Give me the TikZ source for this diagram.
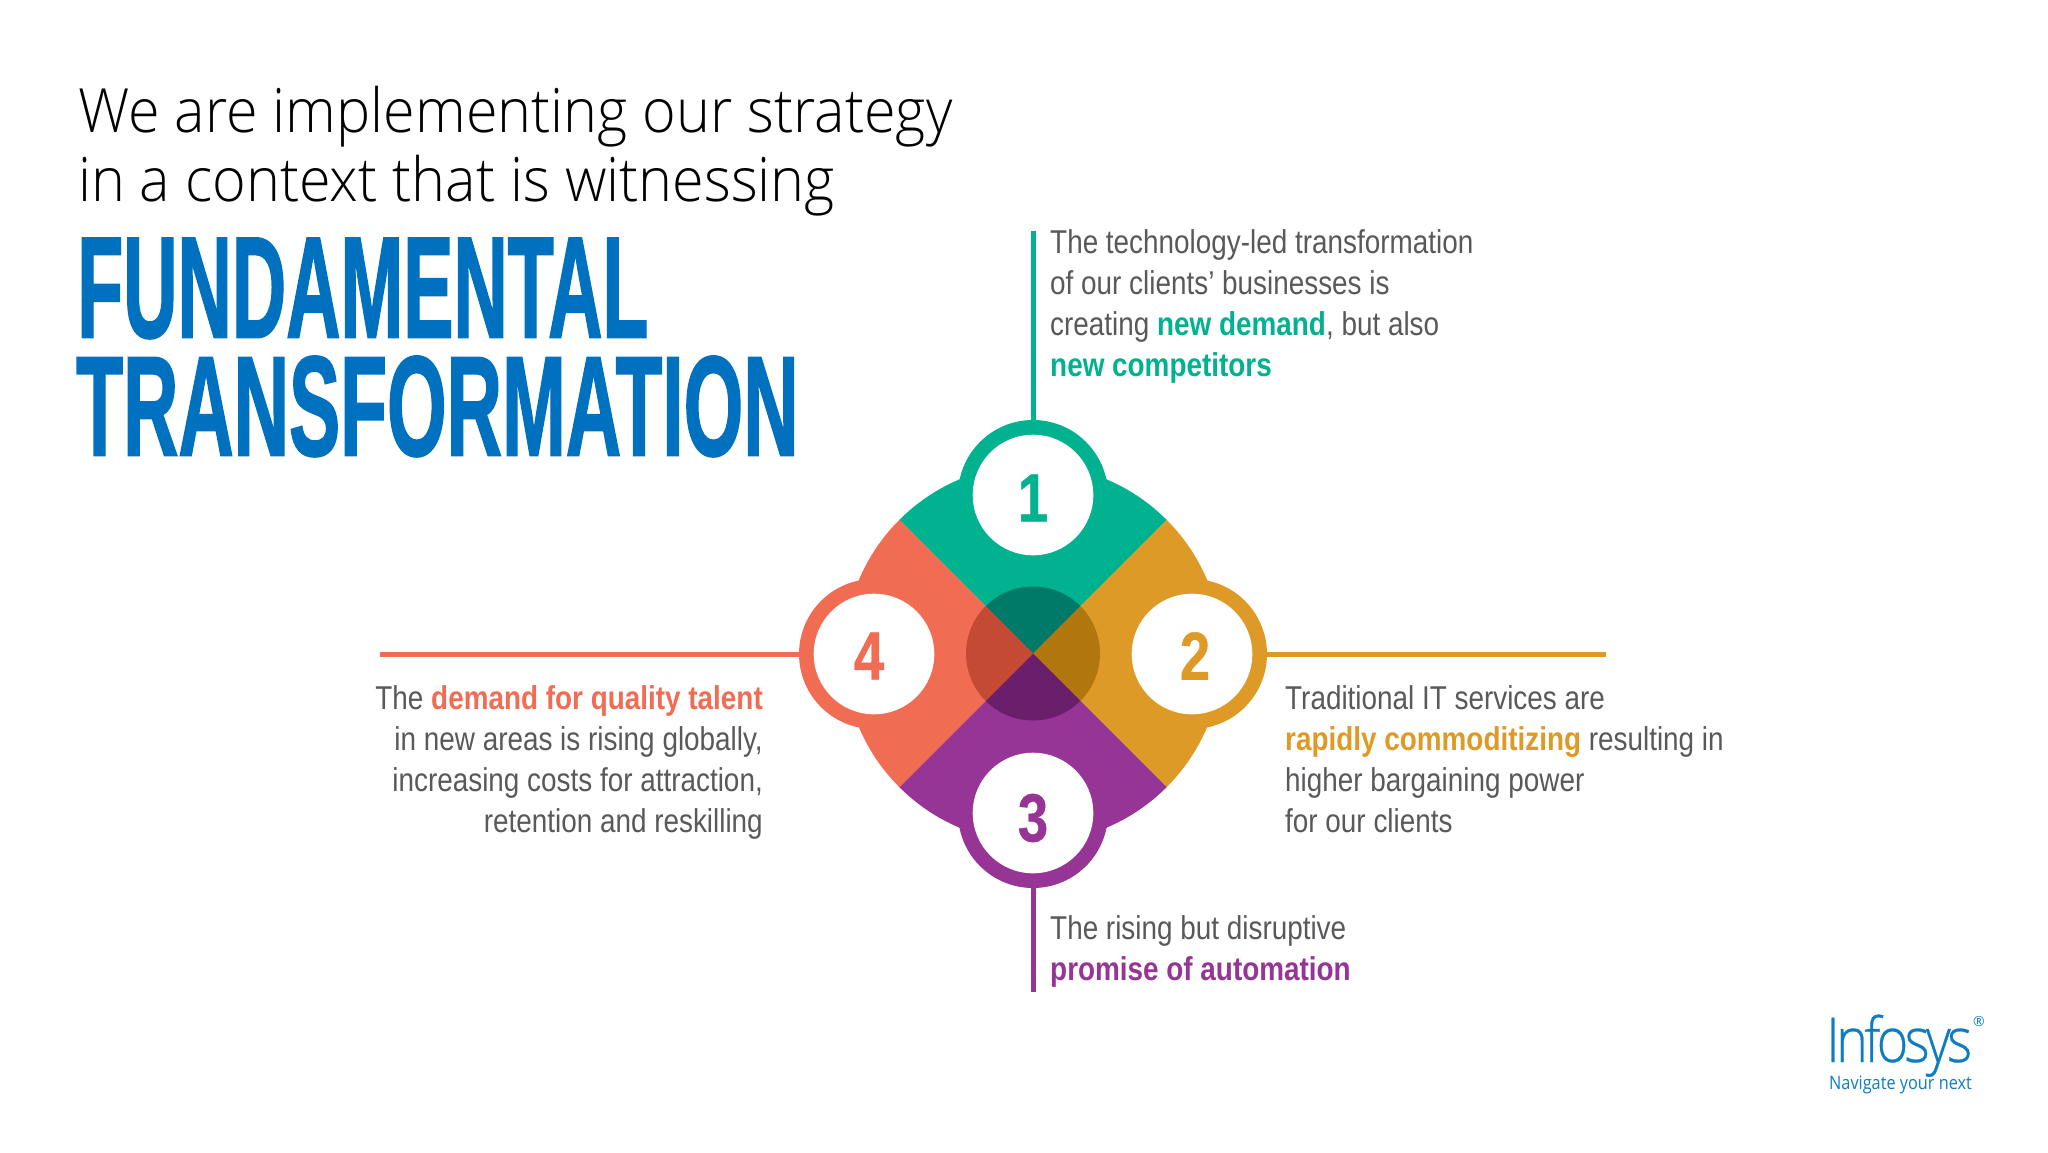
\documentclass[tikz,border=0pt]{standalone}
\usepackage{fontspec}
\setmainfont{Liberation Sans}[FakeStretch=0.845]
\newfontfamily\titlefont{Open Sans Light}[FakeStretch=0.942]
\newfontfamily\headfont{Liberation Sans Bold}[FakeBold=1.6]
\newfontfamily\logofont{Open Sans Light}[LetterSpace=-6,FakeStretch=0.87,FakeBold=0.4]
\newfontfamily\regfont{Open Sans}
\newfontfamily\tagfont{Open Sans}[FakeStretch=0.88]
\newfontfamily\numfont{Liberation Sans Bold}[FakeStretch=0.8,FakeBold=0.6]
\definecolor{cgreen}{HTML}{00B28F}
\definecolor{cgold}{HTML}{DD9A27}
\definecolor{cpurple}{HTML}{963595}
\definecolor{ccoral}{HTML}{F06C53}
\definecolor{dgreen}{HTML}{007A68}
\definecolor{dgold}{HTML}{B2760F}
\definecolor{dpurple}{HTML}{6A1F6D}
\definecolor{dcoral}{HTML}{C44A33}
\definecolor{cblue}{HTML}{0071BF}
\definecolor{lblue}{HTML}{0E7CC1}
\definecolor{cgray}{HTML}{58595B}
\newcommand{\hl}[2]{\textcolor{#1}{\textbf{#2}}}
\tikzset{
  ring/.style={circle,minimum size=150pt,inner sep=0pt},
  hole/.style={circle,fill=white,minimum size=120.6pt,inner sep=0pt},
  numeral/.style={inner sep=0pt,font=\numfont\fontsize{68}{68}\selectfont},
  body/.style={inner sep=0pt,text=cgray,font=\fontsize{33}{41}\selectfont},
  leader/.style={line width=5pt},
  titleline/.style={inner sep=0pt,anchor=base west,text=black,font=\titlefont\fontsize{61}{61}\selectfont},
  headline/.style={inner sep=0pt,anchor=north west,text=cblue}
}
\begin{document}
\begin{tikzpicture}[x=1pt,y=-1pt]
\useasboundingbox (0,0) rectangle (2048,1152);
\fill[white] (0,0) rectangle (2048,1152);
\node[titleline] (t1) at (78,132) {We are implementing our strategy};
\node[titleline] (t2) at (78,201) {in a context that is witnessing};
\node[headline] (h1) at (77,238) {\resizebox{571pt}{99pt}{\headfont FUNDAMENTAL}};
\node[headline] (h2) at (76,356) {\resizebox{722pt}{99pt}{\headfont TRANSFORMATION}};
\begin{scope}[shift={(1033,653.5)}]
\fill[cgreen] (0,0) -- (-135:189) arc[start angle=-135,end angle=-45,radius=189] -- cycle;
\fill[cgold] (0,0) -- (-45:189) arc[start angle=-45,end angle=45,radius=189] -- cycle;
\fill[cpurple] (0,0) -- (45:189) arc[start angle=45,end angle=135,radius=189] -- cycle;
\fill[ccoral] (0,0) -- (135:189) arc[start angle=135,end angle=225,radius=189] -- cycle;
\fill[dgreen] (0,0) -- (-135:67) arc[start angle=-135,end angle=-45,radius=67] -- cycle;
\fill[dgold] (0,0) -- (-45:67) arc[start angle=-45,end angle=45,radius=67] -- cycle;
\fill[dpurple] (0,0) -- (45:67) arc[start angle=45,end angle=135,radius=67] -- cycle;
\fill[dcoral] (0,0) -- (135:67) arc[start angle=135,end angle=225,radius=67] -- cycle;
\end{scope}
\node[ring,fill=cgreen] (r1) at (1033,495) {};
\node[ring,fill=cgold] (r2) at (1192,654) {};
\node[ring,fill=cpurple] (r3) at (1033,813) {};
\node[ring,fill=ccoral] (r4) at (874,654) {};
\node[hole] (w1) at (r1) {};
\node[hole] (w2) at (r2) {};
\node[hole] (w3) at (r3) {};
\node[hole] (w4) at (r4) {};
\node[numeral,text=cgreen] (n1) at (1033,498) {1};
\node[numeral,text=cgold] (n2) at (1195,656) {2};
\node[numeral,text=cpurple] (n3) at (1033,818) {3};
\node[numeral,text=ccoral] (n4) at (869,656) {4};
\coordinate (e1) at (1033,231);
\coordinate (e2) at (1606,654);
\coordinate (e3) at (1033,992);
\coordinate (e4) at (380,654);
\draw[leader,cgreen] (r1.north) -- (e1);
\draw[leader,cgold] (r2.east) -- (e2);
\draw[leader,cpurple] (r3.south) -- (e3);
\draw[leader,ccoral] (r4.west) -- (e4);
\node[body,anchor=north west,align=left] (b1) at (1050,229) {The technology-led transformation\\of our clients’ businesses is\\creating \hl{cgreen}{new demand}, but also\\\hl{cgreen}{new competitors}};
\node[body,anchor=north west,align=left] (b2) at (1285,685) {Traditional IT services are\\\hl{cgold}{rapidly commoditizing} resulting in\\higher bargaining power\\for our clients};
\node[body,anchor=north west,align=left] (b3) at (1050,915) {The rising but disruptive\\\hl{cpurple}{promise of automation}};
\node[body,anchor=north east,align=right] (b4) at (763,685) {The \hl{ccoral}{demand for quality talent}\\in new areas is rising globally,\\increasing costs for attraction,\\retention and reskilling};
\node[inner sep=0pt,anchor=base west,text=lblue,font=\logofont\fontsize{62}{62}\selectfont] (logo) at (1826,1062) {Infosys};
\node[inner sep=0pt,anchor=center,text=lblue,font=\regfont\fontsize{14}{14}\selectfont] (reg) at (1979,1021) {®};
\node[inner sep=0pt,anchor=base west,text=lblue,font=\tagfont\fontsize{18.5}{18.5}\selectfont] (tag) at (1829,1089) {Navigate your next};
\end{tikzpicture}
\end{document}
